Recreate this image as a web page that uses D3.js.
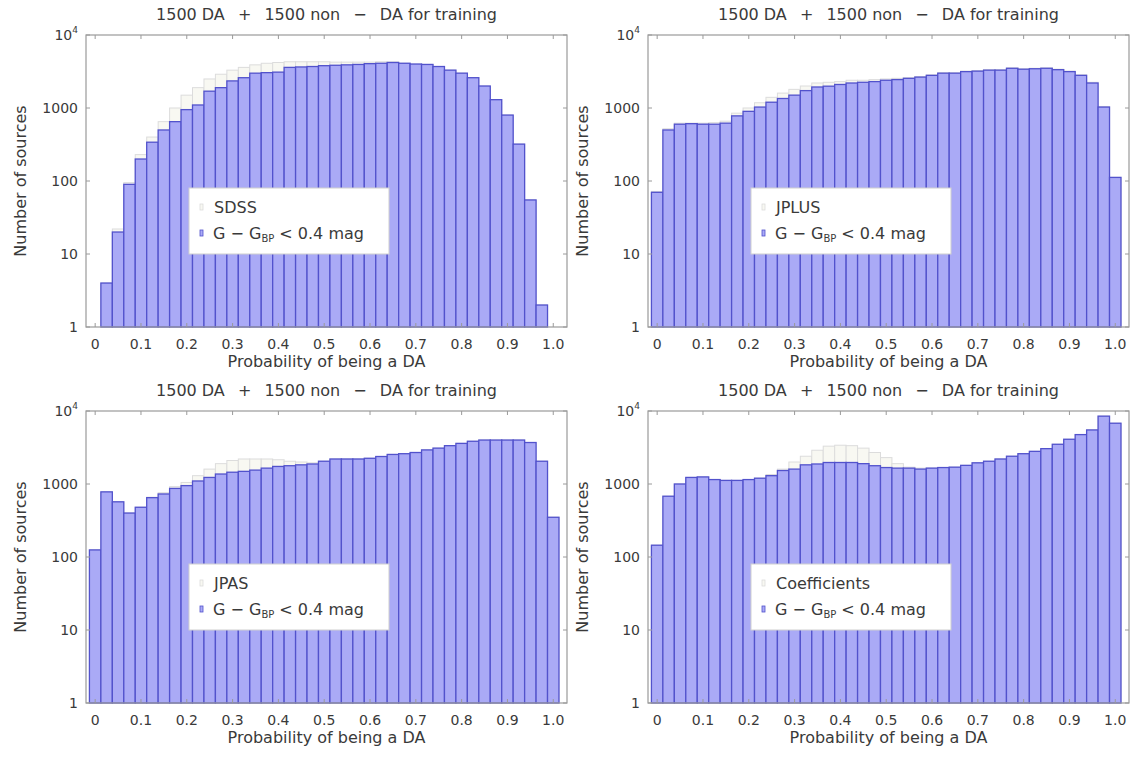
<!DOCTYPE html>
<html><head><meta charset="utf-8">
<script src="https://cdn.jsdelivr.net/npm/d3@7"></script>
<style>
html,body{margin:0;padding:0;background:#fff;}
svg{display:block;font-family:"DejaVu Sans",sans-serif;}
</style></head>
<body>
<svg id="chart" width="1136" height="758"></svg>
<script>
// ---------- data ----------
const binCenters = [0, 0.025, 0.05, 0.075, 0.1, 0.125, 0.15, 0.175, 0.2, 0.225,
  0.25, 0.275, 0.3, 0.325, 0.35, 0.375, 0.4, 0.425, 0.45, 0.475,
  0.5, 0.525, 0.55, 0.575, 0.6, 0.625, 0.65, 0.675, 0.7, 0.725,
  0.75, 0.775, 0.8, 0.825, 0.85, 0.875, 0.9, 0.925, 0.95, 0.975, 1.0];
const binWidth = 0.025;

const xTickValues = [0, 0.1, 0.2, 0.3, 0.4, 0.5, 0.6, 0.7, 0.8, 0.9, 1.0];
const xTickLabels = ["0", "0.1", "0.2", "0.3", "0.4", "0.5", "0.6", "0.7", "0.8", "0.9", "1.0"];
const yTickValues = [1, 10, 100, 1000, 10000];
const yTickLabels = ["1", "10", "100", "1000", "10^4"];

const titleText = "1500 DA \u2002+\u2002 1500 non \u2002\u2212\u2002 DA for training";
const xLabelText = "Probability of being a DA";
const yLabelText = "Number of sources";
const legendCut = ["G \u2212 G", "BP", " < 0.4 mag"];
const surveyNames = ["SDSS", "JPLUS", "JPAS", "Coefficients"];

// all sources (pale) and G - G_BP < 0.4 mag (blue), per bin
const sdssAll = [null, 4, 22, 95, 230, 400, 650, 1000, 1500, 1900, 2500, 2900, 3300, 3600, 3900, 4100, 4200, 4300, 4300, 4300,
  4300, 4250, 4250, 4250, 4250, 4300, 4300, 4100, 4000, 3950, 3700, 3300, 3000, 2600, 2000, 1300, 800, 320, 55, 2, null];
const sdssBlue = [null, 4, 20, 90, 200, 340, 500, 650, 950, 1100, 1700, 1900, 2350, 2600, 3000, 3050, 3100, 3600, 3650, 3700,
  3800, 3850, 3900, 3950, 4050, 4100, 4200, 4100, 4000, 3950, 3700, 3300, 3000, 2600, 2000, 1300, 800, 320, 55, 2, null];

const jplusAll = [72, 520, 620, 620, 620, 630, 660, 850, 1000, 1180, 1400, 1600, 1800, 2000, 2200, 2250, 2300, 2400, 2400, 2450,
  2500, 2550, 2600, 2700, 2850, 3050, 3050, 3200, 3250, 3350, 3350, 3550, 3450, 3500, 3550, 3400, 3200, 2850, 2250, 1050, 112];
const jplusBlue = [70, 500, 600, 610, 600, 600, 620, 780, 900, 1030, 1200, 1350, 1500, 1730, 1940, 1990, 2100, 2200, 2250, 2300,
  2400, 2450, 2550, 2650, 2800, 3000, 3000, 3150, 3200, 3300, 3300, 3500, 3400, 3450, 3500, 3350, 3150, 2800, 2200, 1030, 112];

const jpasAll = [125, 780, 570, 400, 480, 660, 760, 920, 1050, 1300, 1600, 1900, 2100, 2200, 2200, 2200, 2150, 2050, 2000, 1950,
  2050, 2200, 2200, 2200, 2250, 2380, 2540, 2600, 2700, 2930, 3100, 3350, 3600, 3850, 4000, 4000, 4000, 4000, 3700, 2050, 350];
const jpasBlue = [125, 780, 570, 400, 480, 650, 730, 870, 950, 1100, 1230, 1370, 1450, 1490, 1550, 1650, 1740, 1780, 1830, 1880,
  2050, 2200, 2200, 2200, 2250, 2380, 2540, 2600, 2700, 2930, 3100, 3350, 3600, 3850, 4000, 4000, 4000, 4000, 3700, 2050, 350];

const coefAll = [145, 680, 1000, 1230, 1250, 1150, 1120, 1120, 1150, 1200, 1350, 1600, 2000, 2400, 2900, 3300, 3400, 3350, 3100, 2700,
  2300, 1900, 1700, 1650, 1650, 1680, 1700, 1800, 1950, 2050, 2200, 2400, 2600, 2800, 3050, 3500, 4100, 4750, 5500, 8500, 6800];
const coefBlue = [145, 680, 1000, 1230, 1250, 1150, 1120, 1120, 1150, 1200, 1300, 1530, 1600, 1830, 1880, 1970, 1970, 1970, 1900, 1780,
  1680, 1650, 1650, 1600, 1650, 1680, 1700, 1800, 1950, 2050, 2200, 2400, 2600, 2800, 3050, 3500, 4100, 4750, 5500, 8500, 6800];

const panels = [
  {col: 0, row: 0, name: surveyNames[0], all: sdssAll, cut: sdssBlue},
  {col: 1, row: 0, name: surveyNames[1], all: jplusAll, cut: jplusBlue},
  {col: 0, row: 1, name: surveyNames[2], all: jpasAll, cut: jpasBlue},
  {col: 1, row: 1, name: surveyNames[3], all: coefAll, cut: coefBlue}
];

// ---------- layout ----------
const frameW = 481, frameH = 292;
const colLeft = [86, 648];
const rowTop = [35, 411];

const blueFill = "#aaaaf6", blueStroke = "#5252cc";
const paleFill = "#f8f8f2", paleStroke = "#dcdcdc";
const textColor = "#3a3a3a";

const svg = d3.select("#chart");

panels.forEach(p => {
  const x0 = colLeft[p.col], y0 = rowTop[p.row];
  const g = svg.append("g").attr("transform", `translate(${x0},${y0})`);
  const x = d3.scaleLinear().domain([-0.02, 1.03]).range([0, frameW]);
  const y = d3.scaleLog().domain([1, 10000]).range([frameH, 0]);

  const drawBars = (vals, fill, stroke, sw) => {
    g.append("g").selectAll("rect")
      .data(binCenters.map((c, i) => ({c, v: vals[i]})).filter(d => d.v != null && d.v >= 1))
      .join("rect")
      .attr("x", d => x(d.c - binWidth / 2))
      .attr("width", d => x(d.c + binWidth / 2) - x(d.c - binWidth / 2))
      .attr("y", d => y(d.v))
      .attr("height", d => y(1) - y(d.v))
      .attr("fill", fill)
      .attr("stroke", stroke)
      .attr("stroke-width", sw);
  };
  drawBars(p.all, paleFill, paleStroke, 1);
  drawBars(p.cut, blueFill, blueStroke, 1.3);

  // frame
  g.append("rect").attr("x", 0).attr("y", 0).attr("width", frameW).attr("height", frameH)
    .attr("fill", "none").attr("stroke", "#9a9a9a").attr("stroke-width", 1.2);

  // ticks (inward, mirrored)
  const tk = g.append("g").attr("stroke", "#9a9a9a").attr("stroke-width", 1);
  xTickValues.forEach(v => {
    tk.append("line").attr("x1", x(v)).attr("x2", x(v)).attr("y1", frameH).attr("y2", frameH - 4);
    tk.append("line").attr("x1", x(v)).attr("x2", x(v)).attr("y1", 0).attr("y2", 4);
  });
  yTickValues.forEach(v => {
    tk.append("line").attr("x1", 0).attr("x2", 4).attr("y1", y(v)).attr("y2", y(v));
    tk.append("line").attr("x1", frameW).attr("x2", frameW - 4).attr("y1", y(v)).attr("y2", y(v));
  });

  // x tick labels
  g.append("g").selectAll("text").data(xTickValues).join("text")
    .attr("x", v => x(v)).attr("y", frameH + 22)
    .attr("text-anchor", "middle").attr("fill", textColor).attr("font-size", 14)
    .text((v, i) => xTickLabels[i]);

  // y tick labels
  yTickValues.forEach((v, i) => {
    const lab = yTickLabels[i];
    const t = g.append("text").attr("x", -8).attr("y", y(v) + 5)
      .attr("text-anchor", "end").attr("fill", textColor).attr("font-size", 14);
    if (lab.includes("^")) {
      const [b, e] = lab.split("^");
      t.append("tspan").text(b);
      t.append("tspan").attr("font-size", 9).attr("dy", -7).text(e);
    } else t.text(lab);
  });

  // axis labels & title
  g.append("text").attr("x", frameW / 2).attr("y", frameH + 40)
    .attr("text-anchor", "middle").attr("fill", textColor).attr("font-size", 16).text(xLabelText);
  g.append("text").attr("transform", `translate(-60,${frameH / 2}) rotate(-90)`)
    .attr("text-anchor", "middle").attr("fill", textColor).attr("font-size", 16).text(yLabelText);
  g.append("text").attr("x", frameW / 2).attr("y", -15)
    .attr("text-anchor", "middle").attr("fill", textColor).attr("font-size", 16)
    .style("white-space", "pre").text(titleText);

  // legend
  const lg = g.append("g").attr("transform", `translate(103,153)`);
  lg.append("rect").attr("width", 200).attr("height", 66).attr("fill", "#fff")
    .attr("stroke", "#cfcfcf").attr("stroke-width", 1);
  lg.append("rect").attr("x", 11).attr("y", 16).attr("width", 3).attr("height", 6)
    .attr("fill", paleFill).attr("stroke", paleStroke).attr("stroke-width", 0.8);
  lg.append("rect").attr("x", 11).attr("y", 42).attr("width", 3).attr("height", 6)
    .attr("fill", blueFill).attr("stroke", blueStroke).attr("stroke-width", 0.8);
  lg.append("text").attr("x", 25).attr("y", 25).attr("fill", textColor).attr("font-size", 16).text(p.name);
  const lt = lg.append("text").attr("x", 24).attr("y", 51).attr("fill", textColor).attr("font-size", 16)
    .style("white-space", "pre");
  lt.append("tspan").text(legendCut[0]);
  lt.append("tspan").attr("font-size", 10).attr("dy", 3).text(legendCut[1]);
  lt.append("tspan").attr("dy", -3).text(legendCut[2]);
});
</script>
</body></html>
